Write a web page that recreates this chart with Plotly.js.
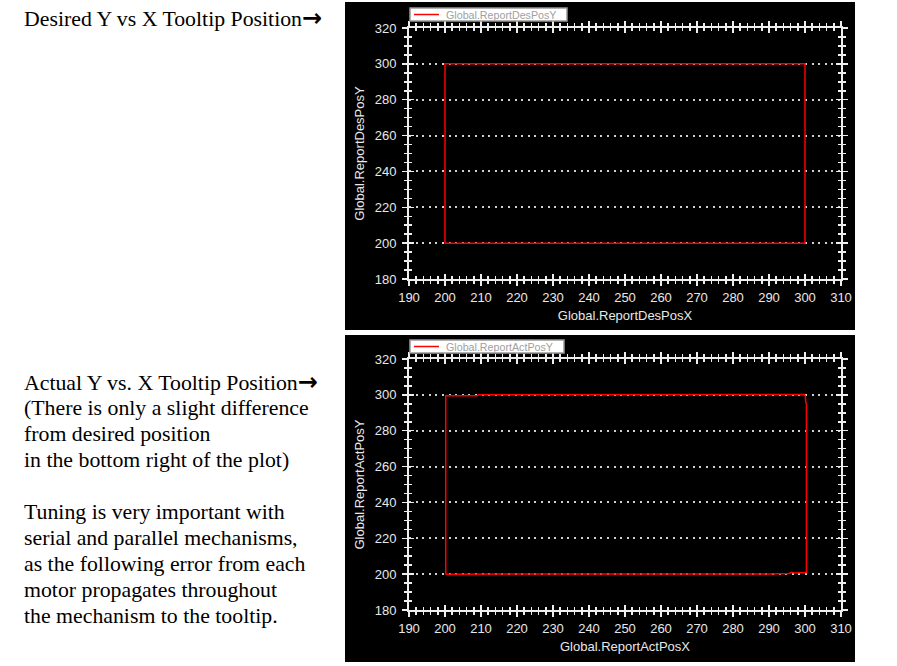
<!DOCTYPE html>
<html>
<head>
<meta charset="utf-8">
<script src="https://cdn.plot.ly/plotly-3.0.1.min.js"></script>
<style>
  html, body { margin: 0; padding: 0; background: #ffffff; }
  #chart { width: 897px; height: 666px; }
</style>
</head>
<body>
<div id="chart"></div>
<script>
// ---- data ----
const desName = 'Global.ReportDesPosY';
const desX = [200, 200, 300, 300, 200];
const desY = [200, 300, 300, 200, 200];

const actName = 'Global.ReportActPosY';
const actX = [200.2, 200.2, 209.0, 209.3, 299.8, 300.1, 300.2, 300.4, 300.4, 299.0, 297.0, 296.3, 295.5, 290.0, 200.2];
const actY = [200.0, 299.5, 299.5, 300.1, 300.2, 299.3, 295.8, 294.8, 200.9, 200.8, 200.6, 201.0, 200.4, 200.1, 200.0];

const xRange = [190, 310];
const yRange = [180, 320];

const desXTitle = 'Global.ReportDesPosX';
const desYTitle = 'Global.ReportDesPosY';
const actXTitle = 'Global.ReportActPosX';
const actYTitle = 'Global.ReportActPosY';

const ARROW = '<span style="font-family:DejaVu Sans;font-weight:bold;font-size:24px">\u2192</span>';
const noteTop = ['Desired Y vs X Tooltip Position' + ARROW];
const noteBottom = [
  'Actual Y vs. X Tooltip Position' + ARROW,
  '(There is only a slight difference',
  'from desired position',
  'in the bottom right of the plot)',
  '',
  'Tuning is very important with',
  'serial and parallel mechanisms,',
  'as the following error from each',
  'motor propagates throughout',
  'the mechanism to the tooltip.'
];

// ---- layout helpers ----
const W = 897, H = 666;
const px = v => v / W;
const py = v => 1 - v / H;

const tickCol = '#eeeeee';
const labFont = {family: 'Liberation Sans, Arial, sans-serif', size: 13, color: '#e8e8e8'};

function mainX(t) {
  return {
    domain: [px(409), px(841)], range: xRange, tick0: 190, dtick: 10,
    ticks: 'outside', ticklen: 5, tickwidth: 1.5, tickcolor: tickCol,
    showline: true, linecolor: tickCol, linewidth: 2, mirror: 'ticks',
    showgrid: false, zeroline: false, fixedrange: true,
    tickfont: labFont,
    minor: {tick0: 190, dtick: 2, ticks: 'outside', ticklen: 3, tickwidth: 1.5, tickcolor: tickCol, showgrid: false},
    title: {text: t, font: labFont, standoff: 7}
  };
}
function mainY(dom, t) {
  return {
    domain: dom, range: yRange, tick0: 180, dtick: 20,
    ticks: 'outside', ticklen: 5, tickwidth: 1.5, tickcolor: tickCol,
    showline: true, linecolor: tickCol, linewidth: 2, mirror: 'ticks',
    showgrid: true, gridcolor: '#d0d0d0', gridwidth: 2, griddash: '2px,4.6px',
    zeroline: false, fixedrange: true,
    tickfont: labFont, ticklabelstandoff: 3,
    minor: {tick0: 180, dtick: 5, ticks: 'outside', ticklen: 3, tickwidth: 1.5, tickcolor: tickCol, showgrid: false},
    title: {text: t, font: labFont, standoff: 7}
  };
}
function overX(over, anch) {
  return {
    overlaying: over, anchor: anch, range: xRange, tick0: 190, dtick: 10,
    ticks: 'inside', ticklen: 5, tickwidth: 1.5, tickcolor: tickCol, mirror: 'ticks',
    showline: false, showticklabels: false, showgrid: false, zeroline: false, fixedrange: true,
    minor: {tick0: 190, dtick: 2, ticks: 'inside', ticklen: 3, tickwidth: 1.5, tickcolor: tickCol, showgrid: false}
  };
}
function overY(over, anch) {
  return {
    overlaying: over, anchor: anch, range: yRange, tick0: 180, dtick: 20,
    ticks: 'inside', ticklen: 5, tickwidth: 1.5, tickcolor: tickCol, mirror: 'ticks',
    showline: false, showticklabels: false, showgrid: false, zeroline: false, fixedrange: true,
    minor: {tick0: 180, dtick: 5, ticks: 'inside', ticklen: 3, tickwidth: 1.5, tickcolor: tickCol, showgrid: false}
  };
}

const lineStyle = {color: '#ff0000', width: 1.5};

const traces = [
  {x: desX, y: desY, xaxis: 'x', yaxis: 'y', mode: 'lines', name: desName, line: lineStyle, hoverinfo: 'x+y'},
  {x: actX, y: actY, xaxis: 'x2', yaxis: 'y2', mode: 'lines', name: actName, line: lineStyle, hoverinfo: 'x+y'},
  {x: [], y: [], xaxis: 'x3', yaxis: 'y', hoverinfo: 'skip'},
  {x: [], y: [], xaxis: 'x', yaxis: 'y3', hoverinfo: 'skip'},
  {x: [], y: [], xaxis: 'x4', yaxis: 'y2', hoverinfo: 'skip'},
  {x: [], y: [], xaxis: 'x2', yaxis: 'y4', hoverinfo: 'skip'}
];

const textFont = {family: 'Liberation Serif, Times New Roman, serif', size: 21.8, color: '#000000'};
const annotations = [];
annotations.push({xref: 'paper', yref: 'paper', x: px(22), y: py(18), xanchor: 'left', yanchor: 'middle',
  text: noteTop[0], showarrow: false, font: textFont, align: 'left'});
noteBottom.forEach((t, i) => {
  if (!t) return;
  annotations.push({xref: 'paper', yref: 'paper', x: px(22), y: py(382 + i * 26), xanchor: 'left', yanchor: 'middle',
    text: t, showarrow: false, font: textFont, align: 'left'});
});

// legend boxes (drawn like the original's small legend)
const legFont = {family: 'Liberation Sans, Arial, sans-serif', size: 10.7, color: '#a0a0a0'};
function legendParts(name, top, right) {
  const mid = top + 6.5;
  annotations.push({xref: 'paper', yref: 'paper', x: px(445), y: py(mid), xanchor: 'left', yanchor: 'middle',
    text: name, showarrow: false, font: legFont, borderpad: 0});
  return [
    {type: 'rect', xref: 'paper', yref: 'paper', x0: px(410), x1: px(right), y0: py(top + 13), y1: py(top),
      fillcolor: '#ffffff', line: {color: '#999999', width: 1.5}},
    {type: 'line', xref: 'paper', yref: 'paper', x0: px(414), x1: px(439), y0: py(mid), y1: py(mid),
      line: {color: '#ff0000', width: 1.5}}
  ];
}

const shapes = [
  {type: 'rect', xref: 'paper', yref: 'paper', x0: px(345), x1: px(855), y0: py(330), y1: py(2),
    fillcolor: '#000000', line: {width: 0}, layer: 'below'},
  {type: 'rect', xref: 'paper', yref: 'paper', x0: px(345), x1: px(855), y0: py(662), y1: py(335),
    fillcolor: '#000000', line: {width: 0}, layer: 'below'}
].concat(legendParts(desName, 8, 567), legendParts(actName, 340, 564));

const layout = {
  width: W, height: H,
  margin: {l: 0, r: 0, t: 0, b: 0, pad: 0},
  paper_bgcolor: '#ffffff', plot_bgcolor: '#000000',
  showlegend: false,
  xaxis: Object.assign(mainX(desXTitle), {anchor: 'y'}),
  yaxis: Object.assign(mainY([py(279), py(28)], desYTitle), {anchor: 'x'}),
  xaxis2: Object.assign(mainX(actXTitle), {anchor: 'y2'}),
  yaxis2: Object.assign(mainY([py(610), py(359)], actYTitle), {anchor: 'x2'}),
  xaxis3: overX('x', 'y'),
  yaxis3: overY('y', 'x'),
  xaxis4: overX('x2', 'y2'),
  yaxis4: overY('y2', 'x2'),
  shapes: shapes,
  annotations: annotations
};

Plotly.newPlot('chart', traces, layout, {displayModeBar: false, staticPlot: true});
</script>
</body>
</html>
